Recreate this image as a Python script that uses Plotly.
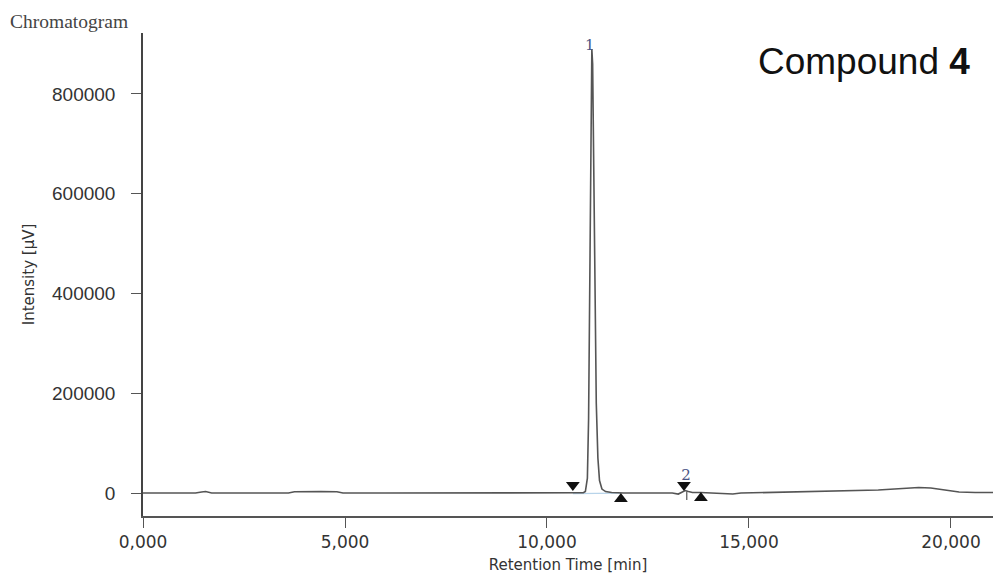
import plotly.graph_objects as go

# Chromatogram trace (retention time in min, intensity in µV)
time = [0.0, 0.8, 1.3, 1.45, 1.55, 1.7, 2.5, 3.6, 3.75, 4.0, 4.4, 4.8, 4.95, 6.0, 8.0, 9.5,
        10.4, 10.6, 10.75, 10.9, 10.95, 11.0, 11.03, 11.06, 11.09, 11.11, 11.13, 11.16,
        11.19, 11.22, 11.26, 11.30, 11.36, 11.45, 11.6, 11.9, 12.5, 13.1, 13.25, 13.35,
        13.42, 13.5, 13.6, 13.8, 14.1, 14.35, 14.6, 14.8, 15.3, 16.0, 16.8, 17.5, 18.2,
        18.8, 19.2, 19.5, 19.8, 20.2, 20.6, 21.1]
intensity = [0, 0, 0, 2000, 3000, 0, 0, 0, 2500, 3000, 3000, 2500, 0, 0, 0, 0,
             0, -1000, -1000, 500, 3000, 30000, 150000, 450000, 780000, 890000, 860000, 650000,
             380000, 180000, 70000, 25000, 8000, 3000, 1000, 0, 0, 0, -2000, 2000,
             5000, 3000, 1000, 1000, 0, -2000, -2000, 0, 1000, 2000, 3000, 4000, 6000,
             9000, 11000, 10000, 7000, 2000, 1000, 1000]

# Integration baseline under peak 1
base_time = [10.64, 11.83]
base_int = [-1000, 0]

# Peak start / end markers
start_time = [10.64, 13.39]
start_int = [16000, 16000]
end_time = [11.83, 13.81]
end_int = [-12000, -10000]

# Peak labels
peak_labels = ["1", "2"]
peak_time = [11.06, 13.44]
peak_int = [895000, 34000]

# Drop line of peak 2
drop_time = [13.46, 13.46]
drop_int = [3000, -14000]

x_ticks = [0, 5, 10, 15, 20]
x_ticktext = ["0,000", "5,000", "10,000", "15,000", "20,000"]
y_ticks = [0, 200000, 400000, 600000, 800000]
y_ticktext = ["0", "200000", "400000", "600000", "800000"]

fig = go.Figure()
fig.add_trace(go.Scatter(x=base_time, y=base_int, mode="lines",
                         line=dict(color="#b8d4ea", width=1.2), hoverinfo="skip"))
fig.add_trace(go.Scatter(x=time, y=intensity, mode="lines",
                         line=dict(color="#555555", width=1.6)))
fig.add_trace(go.Scatter(x=drop_time, y=drop_int, mode="lines",
                         line=dict(color="#555555", width=1.2)))
fig.add_trace(go.Scatter(x=start_time, y=start_int, mode="markers",
                         marker=dict(symbol="triangle-down", size=12, color="#111111")))
fig.add_trace(go.Scatter(x=end_time, y=end_int, mode="markers",
                         marker=dict(symbol="triangle-up", size=12, color="#111111")))
fig.add_trace(go.Scatter(x=peak_time, y=peak_int, mode="text", text=peak_labels,
                         textfont=dict(family="DejaVu Serif", size=15, color="#4a5585"),
                         textposition="middle center"))

fig.update_layout(
    width=993, height=577,
    margin=dict(l=143, r=0, t=33, b=61),
    paper_bgcolor="white", plot_bgcolor="white",
    showlegend=False,
    xaxis=dict(range=[0, 21.04], tickvals=x_ticks, ticktext=x_ticktext,
               showgrid=False, zeroline=False, showline=True, linecolor="#555555", linewidth=2,
               ticks="outside", ticklen=10, tickcolor="#555555", tickwidth=1.2,
               tickfont=dict(family="DejaVu Sans", size=17, color="#333333"),
               title=dict(text="Retention Time [min]", standoff=8,
                          font=dict(family="DejaVu Sans", size=15, color="#333333"))),
    yaxis=dict(range=[-46000, 922000], tickvals=y_ticks, ticktext=y_ticktext,
               showgrid=False, zeroline=False, showline=True, linecolor="#444444", linewidth=1.5,
               ticks="outside", ticklen=10, tickcolor="#555555", tickwidth=1.2,
               ticklabelstandoff=12,
               tickfont=dict(family="Liberation Sans", size=19, color="#333333"),
               title=dict(text="Intensity [µV]", standoff=14,
                          font=dict(family="DejaVu Sans", size=15, color="#333333"))),
    annotations=[
        dict(text="Chromatogram", xref="paper", yref="paper", x=(8 - 143) / 850,
             y=1 + (33 - 21) / 484,
             xanchor="left", yanchor="middle", showarrow=False,
             font=dict(family="Liberation Serif", size=19.5, color="#444444")),
        dict(text="Compound <b>4</b>", xref="paper", yref="paper", x=(972 - 143) / 850,
             y=1 - (62 - 33) / 484, xanchor="right", yanchor="middle", showarrow=False,
             font=dict(family="Liberation Sans", size=37, color="#111111")),
    ],
)

fig.write_html("out.html")
